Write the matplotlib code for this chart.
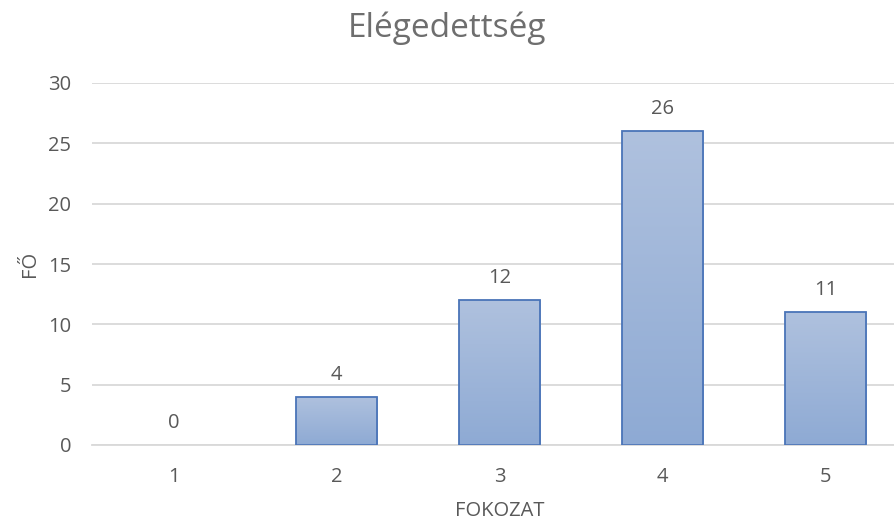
import matplotlib.pyplot as plt
import numpy as np
from matplotlib.colors import LinearSegmentedColormap

fokozat = ['1', '2', '3', '4', '5']
fo = [0, 4, 12, 26, 11]

szurke = '#595959'
plt.rcParams['font.family'] = ['Open Sans', 'DejaVu Sans']

fig = plt.figure(figsize=(8.95, 5.23), dpi=100)
ax = fig.add_axes([92 / 895, 78 / 523, 815 / 895, 362 / 523])

x = np.arange(len(fokozat))
bars = ax.bar(x, fo, width=0.5, color='none', edgecolor='#4a74b8', linewidth=1.3, zorder=3)

# szinatmenet a oszlopokon
cmap = LinearSegmentedColormap.from_list('grad', ['#8eaad4', '#afc1de'])
grad = np.linspace(0, 1, 256).reshape(-1, 1)
for b in bars:
    if b.get_height() == 0:
        b.set_visible(False)
        continue
    x0, w, h = b.get_x(), b.get_width(), b.get_height()
    im = ax.imshow(grad, cmap=cmap, origin='lower', aspect='auto',
                   extent=[x0, x0 + w, 0, h], zorder=2)
    im.set_clip_path(b)

for xi, v in zip(x, fo):
    ax.text(xi, v + 1.0, str(v), ha='center', va='bottom', fontsize=14.5, color=szurke)

ax.set_xlim(-0.5, 4.5)
ax.set_ylim(0, 30)
ax.set_yticks(range(0, 31, 5))
ax.set_xticks(x)
ax.set_xticklabels(fokozat)
ax.grid(axis='y', color='#d9d9d9', linewidth=1.3, zorder=0)
ax.set_axisbelow(True)
for s in ['top', 'right', 'left']:
    ax.spines[s].set_visible(False)
ax.spines['bottom'].set_color('#d9d9d9')
ax.spines['bottom'].set_linewidth(1.3)
ax.tick_params(length=0, labelsize=14.5, labelcolor=szurke)
ax.tick_params(axis='x', pad=16)
ax.tick_params(axis='y', pad=15)

ax.set_xlabel('FOKOZAT', fontsize=14.5, color=szurke, labelpad=10)
ax.set_ylabel('FŐ', fontsize=14.5, color=szurke, labelpad=6)
fig.text(0.5, (523 - 37) / 523, 'Elégedettség', ha='center', va='baseline', fontsize=24, color='#6e6e6e')

fig.savefig('out.png', dpi=100)
